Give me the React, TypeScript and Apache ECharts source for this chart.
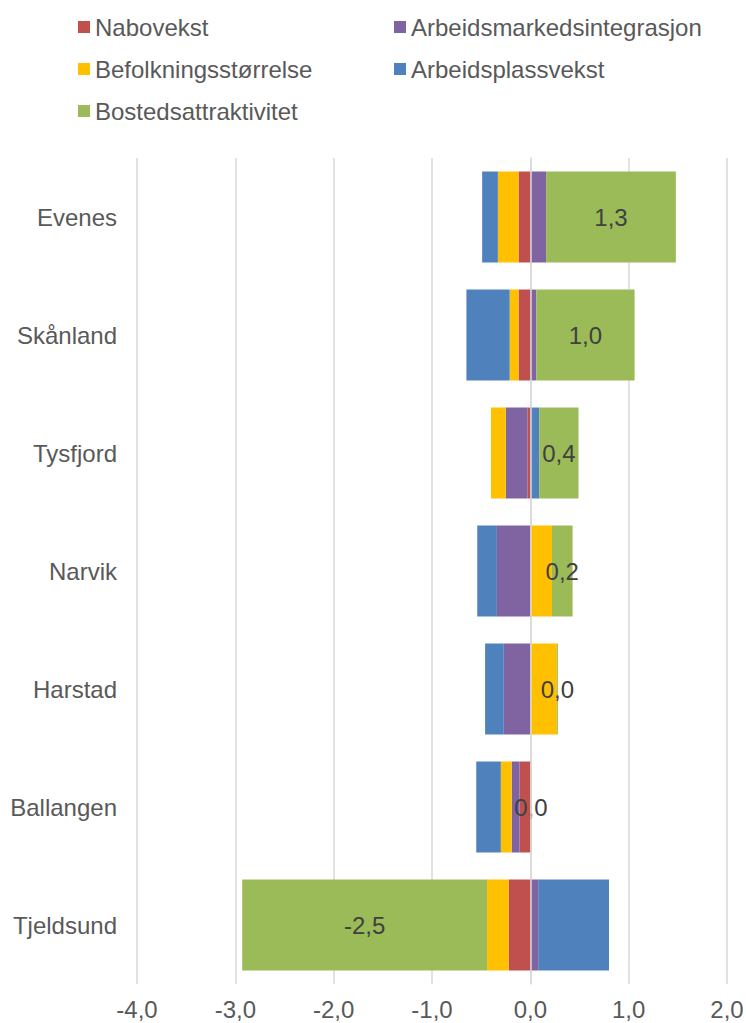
import React, { useEffect, useRef } from "react";
import * as echarts from "echarts";

const categories = ["Evenes", "Skånland", "Tysfjord", "Narvik", "Harstad", "Ballangen", "Tjeldsund"];
const nabovekst = [-0.12, -0.12, -0.03, 0, 0, -0.11, -0.22];
const arbeidsmarkedsintegrasjon = [0.16, 0.06, -0.22, -0.34, -0.27, -0.08, 0.08];
const befolkningsstorrelse = [-0.21, -0.09, -0.15, 0.22, 0.27, -0.11, -0.22];
const arbeidsplassvekst = [-0.16, -0.44, 0.09, -0.2, -0.19, -0.25, 0.72];
const bostedsattraktivitet = [1.32, 1.0, 0.4, 0.21, 0.01, 0.01, -2.49];

const xTicks = { min: -4, max: 2, interval: 1 };

const FONT = '"Liberation Sans", Arial, sans-serif';
const fmt = (v: number) => (Math.round(v * 10) / 10).toFixed(1).replace(".", ",");

export default function App() {
  const ref = useRef<HTMLDivElement>(null);
  useEffect(() => {
    if (!ref.current) return;
    const chart = echarts.init(ref.current, null, { renderer: "svg" });
    const mk = (name: string, data: number[], color: string, label = false) => ({
      name,
      type: "bar",
      stack: "total",
      data,
      barWidth: "77%",
      itemStyle: { color },
      label: label
        ? {
            show: true,
            position: "inside",
            fontFamily: FONT,
            fontSize: 24,
            color: "#404040",
            formatter: (p: any) => fmt(p.value),
          }
        : { show: false },
    });
    const legendCommon = {
      orient: "vertical",
      top: 10,
      itemWidth: 12,
      itemHeight: 12,
      itemGap: 18,
      icon: "rect",
      textStyle: { fontFamily: FONT, fontSize: 24, color: "#595959", lineHeight: 24 },
    };
    chart.setOption({
      animation: false,
      textStyle: { fontFamily: FONT },
      legend: [
        { ...legendCommon, left: 73, data: ["Nabovekst", "Befolkningsstørrelse", "Bostedsattraktivitet"] },
        { ...legendCommon, left: 389, data: ["Arbeidsmarkedsintegrasjon", "Arbeidsplassvekst"] },
      ],
      grid: { left: 137, right: 19, top: 158, bottom: 39, containLabel: false, outerBoundsMode: "none" },
      xAxis: {
        type: "value",
        min: xTicks.min,
        max: xTicks.max,
        interval: xTicks.interval,
        axisLine: { show: false },
        axisTick: { show: false },
        splitLine: { show: true, lineStyle: { color: "#d9d9d9", width: 1.5 } },
        axisLabel: {
          fontFamily: FONT,
          fontSize: 24,
          color: "#595959",
          margin: 13,
          formatter: (v: number) => v.toFixed(1).replace(".", ","),
        },
      },
      yAxis: {
        type: "category",
        data: categories,
        inverse: true,
        z: 10,
        axisLine: { show: true, onZero: true, lineStyle: { color: "#d9d9d9", width: 1.5 } },
        axisTick: { show: false },
        axisLabel: { fontFamily: FONT, fontSize: 24, color: "#595959", margin: 20 },
      },
      series: [
        mk("Nabovekst", nabovekst, "#C0504D"),
        mk("Arbeidsmarkedsintegrasjon", arbeidsmarkedsintegrasjon, "#8064A2"),
        mk("Befolkningsstørrelse", befolkningsstorrelse, "#FFC000"),
        mk("Arbeidsplassvekst", arbeidsplassvekst, "#4F81BD"),
        mk("Bostedsattraktivitet", bostedsattraktivitet, "#9BBB59", true),
      ],
    });
    return () => chart.dispose();
  }, []);
  return <div ref={ref} style={{ position: "fixed", left: 0, top: 0, width: 746, height: 1023, background: "#fff" }} />;
}
